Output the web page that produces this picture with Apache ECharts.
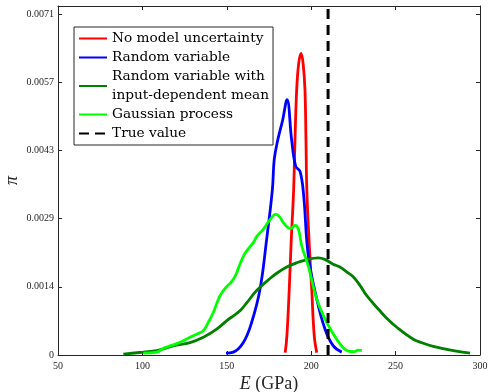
<!DOCTYPE html>
<html><head><meta charset="utf-8">
<script src="https://cdn.jsdelivr.net/npm/echarts@6/dist/echarts.min.js"></script>
<style>html,body{margin:0;padding:0;background:#fff}#c{width:488px;height:392px}</style>
</head><body><div id="c"></div>
<script>
// ---- data ----
const seriesNames = ['No model uncertainty', 'Random variable', 'Random variable with\ninput-dependent mean', 'Gaussian process', 'True value'];

const redE = [184.6, 185.6, 187.0, 188.2, 189.6, 190.4, 191.4, 192.6, 194.0, 195.2, 196.3, 196.9, 197.4, 198.7, 200.3, 201.8, 203.3];
const redP = [0.00005, 0.0004, 0.00138, 0.00242, 0.00346, 0.0045, 0.00555, 0.0061, 0.00631, 0.0061, 0.00555, 0.0045, 0.00346, 0.00242, 0.00138, 0.0004, 0.00005];

const blueE = [149.5, 153.9, 159.8, 164.7, 169.7, 173.6, 177.0, 178.1, 180.2, 183.0, 185.7, 188.4, 190.8, 193.4, 195.5, 198.3, 203.3, 208.2, 213.1, 218.1];
const blueP = [0.00004, 0.00006, 0.00026, 0.00068, 0.00138, 0.00242, 0.00346, 0.00409, 0.0045, 0.0049, 0.00534, 0.0045, 0.00395, 0.00384, 0.00335, 0.00207, 0.00117, 0.00054, 0.00019, 0.00006];

const dgreenE = [88.7, 100.5, 108.5, 118.3, 128.2, 136.1, 144.0, 150.0, 153.9, 158.0, 162.0, 167.7, 175.6, 180.0, 185.5, 191.4, 196.0, 204.2, 208.0, 213.0, 217.0, 221.0, 225.0, 229.0, 232.9, 240.8, 245.0, 250.7, 260.5, 266.0, 272.3, 284.2, 294.1];
const dgreenP = [0.00002, 0.00006, 0.00009, 0.00019, 0.00026, 0.00037, 0.00054, 0.00072, 0.00082, 0.00093, 0.0011, 0.00135, 0.0016, 0.00172, 0.00184, 0.00193, 0.00198, 0.00203, 0.002, 0.0019, 0.00184, 0.00174, 0.00163, 0.00145, 0.00124, 0.00092, 0.00076, 0.00058, 0.00033, 0.00025, 0.00018, 0.00009, 0.00004];

const greenE = [100.5, 108.5, 113.0, 116.4, 122.0, 128.2, 133.0, 136.1, 139.0, 142.0, 146.0, 149.9, 152.5, 155.0, 158.0, 161.0, 165.7, 168.0, 171.6, 175.0, 179.0, 181.0, 183.5, 186.0, 188.0, 190.5, 192.5, 194.4, 198.3, 203.3, 209.2, 215.1, 219.0, 222.0, 225.0, 228.0, 230.0];
const greenP = [0.00004, 0.00006, 0.00015, 0.00019, 0.00026, 0.00037, 0.00045, 0.00051, 0.00068, 0.00089, 0.00124, 0.00143, 0.00152, 0.00165, 0.00192, 0.00214, 0.00235, 0.00249, 0.00263, 0.0028, 0.00294, 0.0029, 0.00277, 0.00267, 0.00265, 0.00271, 0.00262, 0.00228, 0.00186, 0.00117, 0.00068, 0.00033, 0.00015, 0.00008, 0.00007, 0.0001, 0.00009];

const trueValue = 210;

const xTicks = [50, 100, 150, 200, 250, 300];
const yTickLabels = ['0', '0.0014', '0.0029', '0.0043', '0.0057', '0.0071'];
const yTickStep = 0.001426;
const yMax = 0.0073;

// ---- chart ----
const pair = (xs, ys) => xs.map((x, i) => [x, ys[i]]);
const FONT = 'Liberation Serif';
const LFONT = 'DejaVu Serif';
const AX = '#262626';

const chart = echarts.init(document.getElementById('c'), null, {renderer: 'canvas'});

const baseX = {
  type: 'value', min: xTicks[0], max: xTicks[xTicks.length - 1], interval: xTicks[1] - xTicks[0],
  axisLine: {show: true, onZero: false, lineStyle: {color: AX, width: 1}},
  axisTick: {show: true, inside: true, length: 4, lineStyle: {color: AX}},
  splitLine: {show: false}
};
const baseY = {
  type: 'value', min: 0, max: yMax, interval: yTickStep,
  axisLine: {show: true, onZero: false, lineStyle: {color: AX, width: 1}},
  axisTick: {show: true, inside: true, length: 4, lineStyle: {color: AX}},
  splitLine: {show: false}
};

const lineSeries = (name, data, color, extra) => Object.assign({
  name, type: 'line', data, symbol: 'none', smooth: 0.4,
  lineStyle: {color, width: 2.8}, itemStyle: {color}, z: 3, animation: false
}, extra || {});

chart.setOption({
  animation: false,
  backgroundColor: '#fff',
  grid: {left: 58, right: 8, top: 6, bottom: 37, containLabel: false, outerBoundsMode: 'none'},
  xAxis: [
    Object.assign({}, baseX, {
      position: 'bottom',
      axisLabel: {show: true, margin: 6, color: AX, fontFamily: FONT, fontSize: 10},
      name: '{i|E} (GPa)', nameLocation: 'middle', nameGap: 20, nameMoveOverlap: false,
      nameTextStyle: {color: AX, fontFamily: FONT, fontSize: 18,
        rich: {i: {fontStyle: 'italic', fontFamily: FONT, fontSize: 18, color: AX}}}
    }),
    Object.assign({}, baseX, {position: 'top', axisLabel: {show: false}})
  ],
  yAxis: [
    Object.assign({}, baseY, {
      position: 'left',
      axisLabel: {show: true, margin: 4, color: AX, fontFamily: FONT, fontSize: 10, showMaxLabel: false,
        formatter: v => { const k = Math.round(v / yTickStep); return (Math.abs(v - k * yTickStep) < 1e-7 && k < yTickLabels.length) ? yTickLabels[k] : ''; }},
      name: 'π', nameLocation: 'middle', nameGap: 37, nameRotate: 90, nameMoveOverlap: false,
      nameTextStyle: {color: AX, fontFamily: FONT, fontSize: 18, fontStyle: 'italic'}
    }),
    Object.assign({}, baseY, {position: 'right', axisLabel: {show: false}})
  ],
  legend: {
    show: true, orient: 'vertical', left: 74, top: 27,
    padding: [2, 4, 2, 4], itemGap: 0, itemWidth: 28, itemHeight: 10,
    itemStyle: {opacity: 0, borderWidth: 0},
    backgroundColor: '#fff', borderColor: AX, borderWidth: 1,
    textStyle: {fontFamily: LFONT, fontSize: 13.7, color: '#000', lineHeight: 19},
    data: seriesNames
  },
  series: [
    lineSeries(seriesNames[0], pair(redE, redP), '#ff0000'),
    lineSeries(seriesNames[1], pair(blueE, blueP), '#0000ff'),
    lineSeries(seriesNames[2], pair(dgreenE, dgreenP), '#007f00'),
    lineSeries(seriesNames[3], pair(greenE, greenP), '#00ff00'),
    lineSeries(seriesNames[4], [[trueValue, 0], [trueValue, yMax]], '#000000',
      {smooth: false, lineStyle: {color: '#000', width: 3, type: [10, 6]}, z: 4})
  ]
});
</script></body></html>
